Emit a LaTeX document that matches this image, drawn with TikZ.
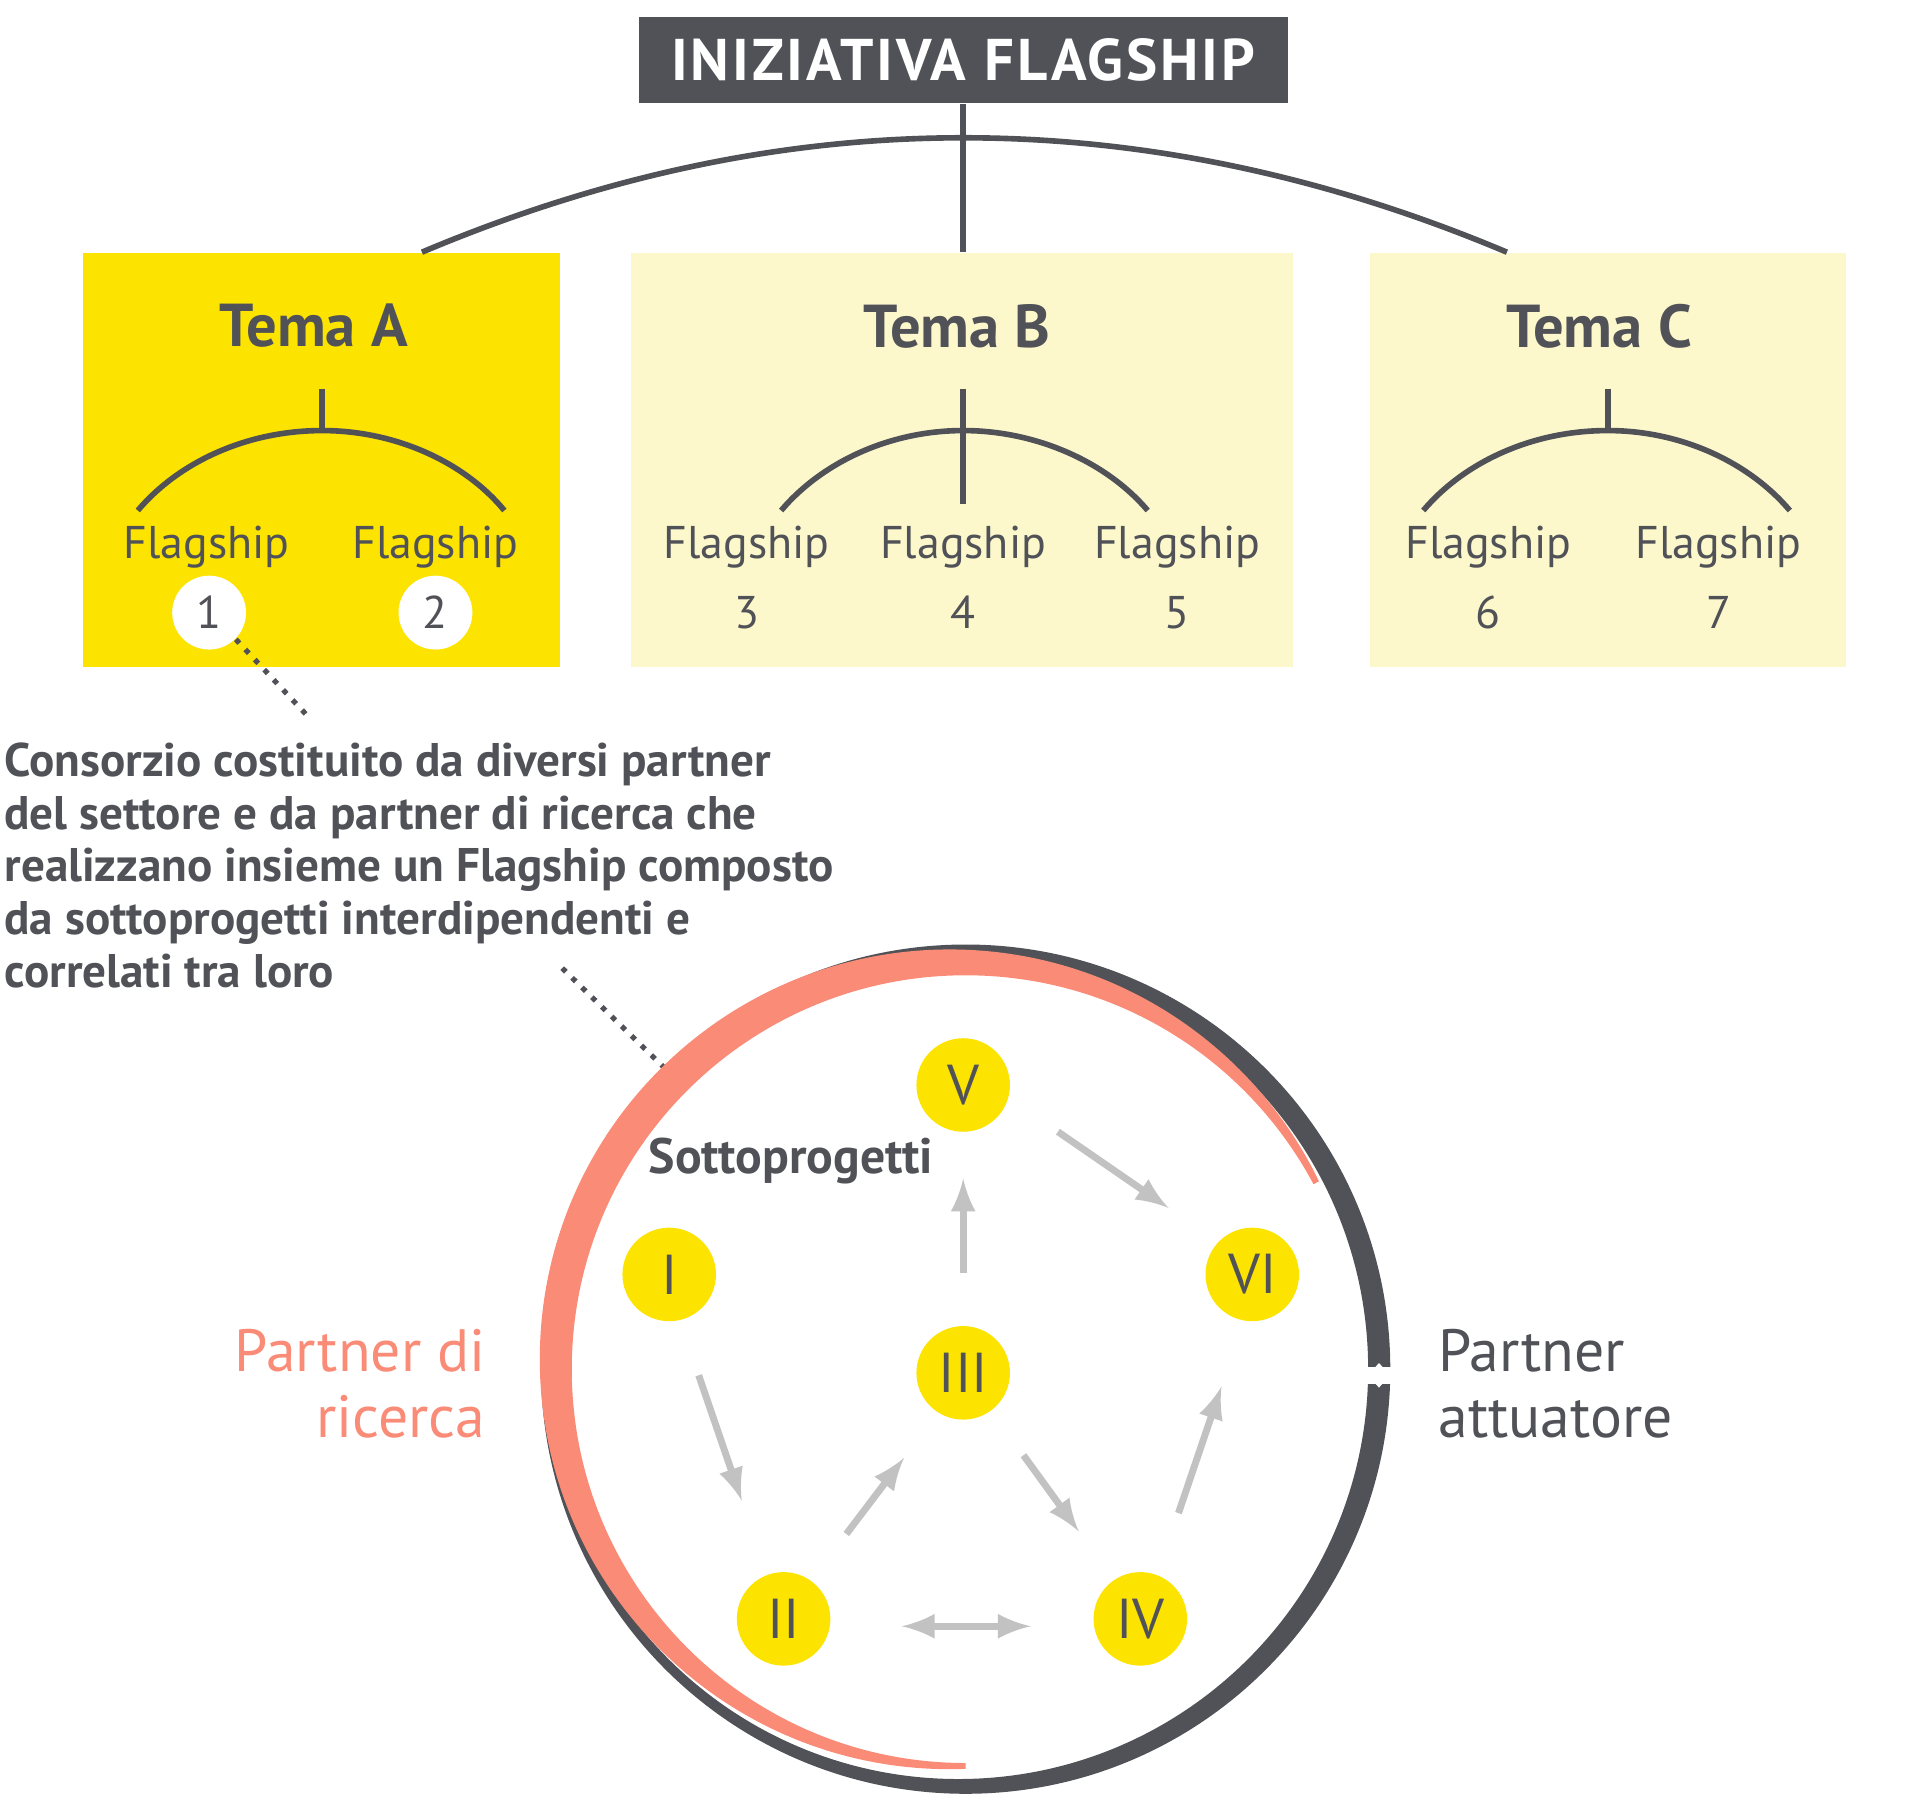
\documentclass[tikz,border=0pt]{standalone}
\usepackage{fontspec}
\setmainfont{PT Sans}
\begin{document}
\definecolor{dk}{HTML}{505257}
\definecolor{ya}{HTML}{FCE300}
\definecolor{yb}{HTML}{FCF8CC}
\definecolor{sal}{HTML}{F98B77}
\definecolor{ag}{HTML}{C2C2C2}
\begin{tikzpicture}[x=0.01cm,y=-0.01cm,
  ln/.style={draw=dk,line width=1.3pt},
  box/.style={draw=none,minimum width=3.87cm,minimum height=3.36cm,anchor=north west,inner sep=0},
  fl/.style={font=\fontsize{10.6}{13}\selectfont,text=dk},
  tema/.style={font=\fontsize{14}{16}\selectfont\bfseries,text=dk},
  sp/.style={circle,fill=ya,minimum size=0.76cm,inner sep=0,font=\fontsize{13}{15}\selectfont,text=dk},
  ar/.style={draw=ag,line width=1.6pt,-{latex}},
  dot/.style={draw=dk,line width=1.2pt,dotted}]
\useasboundingbox (0,0) rectangle (1560,1478);
% title
\node[fill=dk,text=white,minimum width=5.27cm,minimum height=0.7cm,font=\fontsize{13.6}{16}\selectfont\bfseries\addfontfeature{LetterSpace=5}] (title) at (783,49) {INIZIATIVA FLAGSHIP};
% boxes
\node[box,fill=ya] (bA) at (67,205) {};
\node[box,fill=yb,minimum width=5.38cm] (bB) at (512,205) {};
\node[box,fill=yb] (bC) at (1113,205) {};
\coordinate (tl) at (343,205); \coordinate (tr) at (1225,205);
\draw[ln] (tl) .. controls (490,143) and (636,112) .. (783,112) .. controls (930,112) and (1078,143) .. (tr);
\draw[ln] (title.south) -- (783,205);
% Tema labels
\node[tema] (tA) at (255,265) {Tema A};
\node[tema] (tB) at (778,265) {Tema B};
\node[tema] (tC) at (1300,265) {Tema C};
% small trees
\draw[ln] (262,316) -- (262,350);
\draw[ln] (112,415) .. controls (145,376) and (200,350) .. (262,350) .. controls (322,350) and (378,376) .. (410,415);
\draw[ln] (783,316) -- (783,410);
\draw[ln] (635,415) .. controls (668,376) and (723,350) .. (783,350) .. controls (843,350) and (900,376) .. (933,415);
\draw[ln] (1307,316) -- (1307,350);
\draw[ln] (1157,415) .. controls (1190,376) and (1245,350) .. (1307,350) .. controls (1367,350) and (1422,376) .. (1455,415);
% flagship labels
\foreach \n/\x in {f1/168,f2/354,f3/607,f4/783,f5/957,f6/1210,f7/1397}{\node[fl] (\n) at (\x,445) {Flagship};}
\node[circle,fill=white,minimum size=0.6cm,inner sep=0,fl] (c1) at (170,498) {1};
\node[circle,fill=white,minimum size=0.6cm,inner sep=0,fl] (c2) at (354,498) {2};
\foreach \n/\x/\t in {n3/607/3,n4/783/4,n5/957/5,n6/1210/6,n7/1397/7}{\node[fl] (\n) at (\x,498) {\t};}
% dotted
\coordinate (d1) at (250,582);
\draw[dot] (c1.south east) -- (d1);
\node[anchor=north west,align=left,inner sep=0,text=dk,font=\fontsize{10.9}{12.2}\selectfont\bfseries] (para) at (3,603) {Consorzio costituito da diversi partner\\del settore e da partner di ricerca che\\realizzano insieme un Flagship composto\\da sottoprogetti interdipendenti e\\correlati tra loro};
\coordinate (d2) at (457,787); \coordinate (d3) at (540,868);
\draw[dot] (d2) -- (d3);
% dark ring (crescent)
\fill[dk,even odd rule] (785,1113) circle[radius=3.45cm] (779,1113) circle[radius=3.33cm];
\fill[white] (1100,1111) -- (1140,1111) -- (1140,1125) -- (1100,1125) -- cycle;
\fill[white] (1112,1118) -- (1121,1108) -- (1130,1118) -- (1121,1128) -- cycle;
% salmon crescent
\begin{scope}
\clip (785,1113) -- ++(28:5cm) -- (1100,600) -- (0,600) -- (0,1478) -- (785,1478) -- cycle;
\fill[sal,even odd rule] (772,1105) circle[radius=3.33cm] (785,1113) circle[radius=3.2cm];
\end{scope}
% subprojects
\node[sp] (V) at (783,882) {V};
\node[sp] (I) at (544,1036) {I};
\node[sp] (VI) at (1018,1036) {VI};
\node[sp] (III) at (783,1116) {III};
\node[sp] (II) at (637,1316) {II};
\node[sp] (IV) at (927,1316) {IV};
\node[text=dk,font=\fontsize{11.5}{13}\selectfont\bfseries] (st) at (643,944) {Sottoprogetti};
\draw[ar] ([shift={(77,38)}]V.center) -- ([shift={(-68,-54)}]VI.center);
\draw[ar] ([shift={(0,-81)}]III.center) -- ([shift={(0,76)}]V.center);
\draw[ar] ([shift={(24,82)}]I.center) -- ([shift={(-34,-96)}]II.center);
\draw[ar] ([shift={(51,-69)}]II.center) -- ([shift={(-48,69)}]III.center);
\draw[ar] ([shift={(49,67)}]III.center) -- ([shift={(-50,-71)}]IV.center);
\draw[ar] ([shift={(31,-86)}]IV.center) -- ([shift={(-25,91)}]VI.center);
\draw[draw=ag,line width=1.6pt,{latex}-{latex}] ([shift={(96,6)}]II.center) -- ([shift={(-89,6)}]IV.center);
% partner labels
\node[anchor=east,align=right,text=sal,font=\fontsize{13.8}{15.2}\selectfont] (pr) at (407,1125) {Partner di\\ricerca};
\node[anchor=west,align=left,text=dk,font=\fontsize{13.8}{15.2}\selectfont] (pa) at (1157,1125) {Partner\\attuatore};
\end{tikzpicture}
\end{document}
